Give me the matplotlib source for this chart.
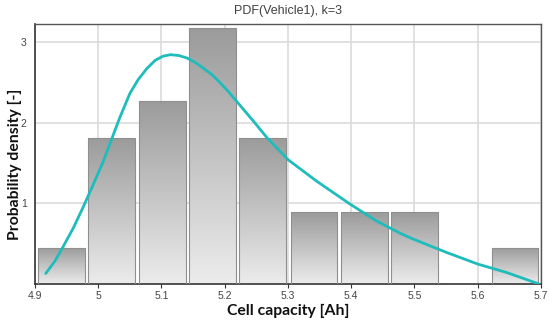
import numpy as np
import matplotlib
matplotlib.use("Agg")
import matplotlib.pyplot as plt
from matplotlib.colors import LinearSegmentedColormap

# Histogram (density) data
bin_centers = [4.942, 5.021, 5.101, 5.181, 5.260, 5.341, 5.421, 5.500, 5.580, 5.659]
densities = [0.45, 1.81, 2.27, 3.17, 1.81, 0.89, 0.89, 0.89, 0.0, 0.45]

# Fitted PDF curve
curve_x = [4.917, 4.932, 4.945, 4.961, 4.976, 4.992, 5.008, 5.021, 5.034, 5.050,
           5.063, 5.077, 5.090, 5.102, 5.114, 5.127, 5.140, 5.153, 5.166, 5.180,
           5.193, 5.206, 5.219, 5.232, 5.245, 5.267, 5.300, 5.345, 5.398, 5.440,
           5.477, 5.498, 5.551, 5.600, 5.645, 5.697]
curve_y = [0.13, 0.29, 0.47, 0.70, 0.95, 1.23, 1.52, 1.79, 2.06, 2.36,
           2.53, 2.67, 2.77, 2.82, 2.84, 2.83, 2.80, 2.745, 2.675, 2.59,
           2.49, 2.38, 2.26, 2.14, 2.02, 1.81, 1.54, 1.275, 0.99, 0.78,
           0.63, 0.556, 0.39, 0.247, 0.144, 0.0]

x_ticks = [4.9, 5.0, 5.1, 5.2, 5.3, 5.4, 5.5, 5.6, 5.7]
x_tick_labels = ["4.9", "5", "5.1", "5.2", "5.3", "5.4", "5.5", "5.6", "5.7"]
y_ticks = [1, 2, 3]
y_tick_labels = ["1", "2", "3"]

bar_width = 0.074

fig = plt.figure(figsize=(5.5, 3.24), dpi=100)
ax = fig.add_axes([35/550, 1-284/324, (541-35)/550, (284-24)/324])
ax.set_xlim(4.9, 5.7)
ax.set_ylim(0, 3.22)

ax.grid(True, color="#dcdcdc", linewidth=1.2, zorder=0)
ax.set_axisbelow(True)

cmap = LinearSegmentedColormap.from_list("g", ["#ececec", "#9b9b9b"])
grad = np.linspace(0, 1, 256).reshape(-1, 1)
bars = ax.bar(bin_centers, densities, width=bar_width, color="none",
              edgecolor="#8f8f8f", linewidth=0.8, zorder=3)
for b in bars:
    h = b.get_height()
    if h <= 0:
        continue
    x0 = b.get_x()
    w = b.get_width()
    im = ax.imshow(grad, cmap=cmap, aspect="auto", origin="lower",
                   extent=[x0, x0 + w, 0, h], zorder=2, interpolation="bilinear")
    im.set_clip_path(b)

ax.plot(curve_x, curve_y, color="#1fbcbc", linewidth=2.0, zorder=4,
        solid_capstyle="round", solid_joinstyle="round")

ax.set_xticks(x_ticks)
ax.set_xticklabels(x_tick_labels)
ax.set_yticks(y_ticks)
ax.set_yticklabels(y_tick_labels)
ax.tick_params(axis="x", direction="out", length=3, width=0.8, color="#333333",
               labelsize=7.5, labelcolor="#444444", pad=2)
ax.tick_params(axis="y", direction="out", length=0, labelsize=7.5,
               labelcolor="#444444", pad=6)
for lab in ax.get_xticklabels() + ax.get_yticklabels():
    lab.set_family("Liberation Sans")

for s in ["left", "bottom"]:
    ax.spines[s].set_color("#333333")
    ax.spines[s].set_linewidth(1.2)
for s in ["top", "right"]:
    ax.spines[s].set_color("#555555")
    ax.spines[s].set_linewidth(1.0)

ax.set_title("PDF(Vehicle1), k=3", fontsize=9, color="#404040",
             family="Liberation Sans", pad=7)
ax.set_xlabel("Cell capacity [Ah]", fontsize=11.3, fontweight="bold",
              family="Lato", color="#111111", labelpad=2)
ax.set_ylabel("Probability density [-]", fontsize=11.3, fontweight="bold",
              family="Lato", color="#111111")
ax.yaxis.set_label_coords(-0.025, 0.46)

fig.savefig("out.png", dpi=100)
